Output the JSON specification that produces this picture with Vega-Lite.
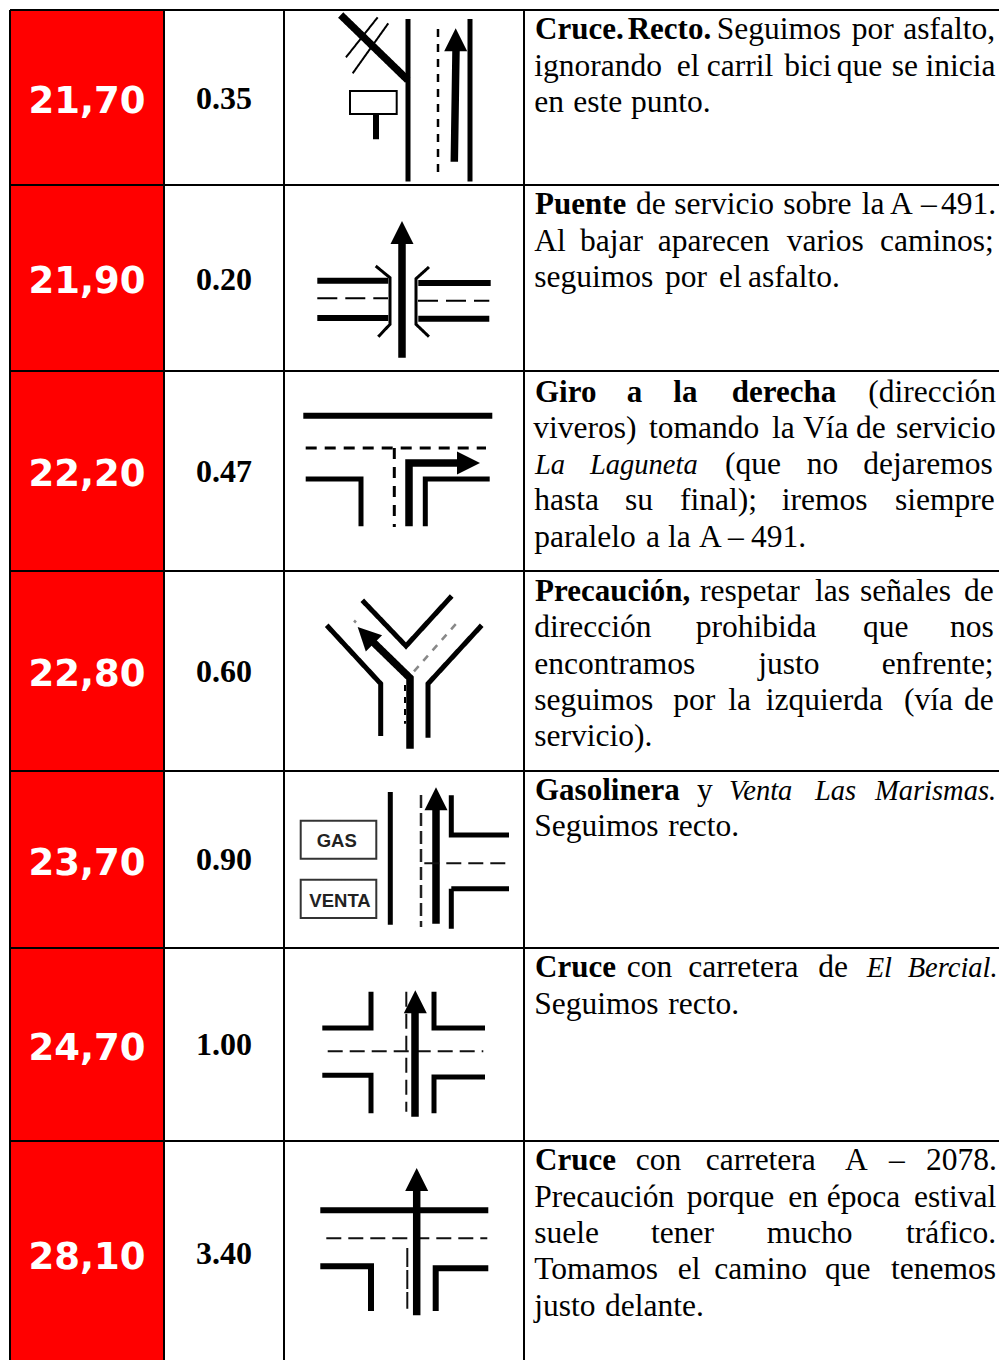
{"$schema":"https://vega.github.io/schema/vega-lite/v6.json","width":999,"height":1360,"autosize":"none","padding":0,"background":"white","config":{"view":{"stroke":null}},
"datasets":{
"filas":[
{"km":"21,70","parcial":"0.35","top":10,"bottom":185,"bk":113,"bp":109},
{"km":"21,90","parcial":"0.20","top":185,"bottom":371,"bk":293,"bp":290},
{"km":"22,20","parcial":"0.47","top":371,"bottom":571,"bk":486,"bp":482},
{"km":"22,80","parcial":"0.60","top":571,"bottom":771,"bk":686,"bp":682},
{"km":"23,70","parcial":"0.90","top":771,"bottom":948,"bk":875,"bp":870},
{"km":"24,70","parcial":"1.00","top":948,"bottom":1141,"bk":1060,"bp":1055},
{"km":"28,10","parcial":"3.40","top":1141,"bottom":1360,"bk":1269,"bp":1264}],
"columnas":[{"x":10},{"x":164},{"x":284},{"x":524}],
"trazos":[
{"p":"a1","n":0,"x":408,"y":19,"k":"road"},{"p":"a1","n":1,"x":408,"y":181.5,"k":"road"},
{"p":"a2","n":0,"x":470,"y":19,"k":"road"},{"p":"a2","n":1,"x":470,"y":181.5,"k":"road"},
{"p":"a3","n":0,"x":438,"y":29,"k":"d1"},{"p":"a3","n":1,"x":438,"y":178,"k":"d1"},
{"p":"a4","n":0,"x":454.3,"y":161.7,"k":"shaft"},{"p":"a4","n":1,"x":456,"y":50,"k":"shaft"},
{"p":"a5","n":0,"x":340.7,"y":15,"k":"shaft"},{"p":"a5","n":1,"x":407.7,"y":80,"k":"shaft"},
{"p":"a6","n":0,"x":377.7,"y":17.3,"k":"thin"},{"p":"a6","n":1,"x":346,"y":57.3,"k":"thin"},
{"p":"a7","n":0,"x":388.3,"y":23.3,"k":"thin"},{"p":"a7","n":1,"x":352.7,"y":73.3,"k":"thin"},
{"p":"a8","n":0,"x":350,"y":91,"k":"thin"},{"p":"a8","n":1,"x":396.7,"y":91,"k":"thin"},{"p":"a8","n":2,"x":396.7,"y":114,"k":"thin"},{"p":"a8","n":3,"x":350,"y":114,"k":"thin"},{"p":"a8","n":4,"x":350,"y":90,"k":"thin"},
{"p":"a9","n":0,"x":376,"y":114,"k":"road6"},{"p":"a9","n":1,"x":376,"y":139.3,"k":"road6"},
{"p":"b1","n":0,"x":402,"y":357.7,"k":"shaft"},{"p":"b1","n":1,"x":402,"y":242,"k":"shaft"},
{"p":"b2","n":0,"x":317.3,"y":280.7,"k":"road6"},{"p":"b2","n":1,"x":388.3,"y":280.7,"k":"road6"},
{"p":"b3","n":0,"x":317.3,"y":298.3,"k":"d2"},{"p":"b3","n":1,"x":388,"y":298.3,"k":"d2"},
{"p":"b4","n":0,"x":317.3,"y":318,"k":"road6"},{"p":"b4","n":1,"x":388.3,"y":318,"k":"road6"},
{"p":"b5","n":0,"x":375.7,"y":266,"k":"branch"},{"p":"b5","n":1,"x":390,"y":277.7,"k":"branch"},{"p":"b5","n":2,"x":390,"y":324.3,"k":"branch"},{"p":"b5","n":3,"x":378.3,"y":336.7,"k":"branch"},
{"p":"b6","n":0,"x":429,"y":267,"k":"branch"},{"p":"b6","n":1,"x":416,"y":278.7,"k":"branch"},{"p":"b6","n":2,"x":416,"y":324.3,"k":"branch"},{"p":"b6","n":3,"x":429,"y":336.7,"k":"branch"},
{"p":"b7","n":0,"x":418.3,"y":283,"k":"road6"},{"p":"b7","n":1,"x":490.7,"y":283,"k":"road6"},
{"p":"b8","n":0,"x":418,"y":300.7,"k":"d2"},{"p":"b8","n":1,"x":489.3,"y":300.7,"k":"d2"},
{"p":"b9","n":0,"x":418.3,"y":318.7,"k":"road6"},{"p":"b9","n":1,"x":489.3,"y":318.7,"k":"road6"},
{"p":"c1","n":0,"x":303.3,"y":415.7,"k":"road6"},{"p":"c1","n":1,"x":492.3,"y":415.7,"k":"road6"},
{"p":"c2","n":0,"x":305.7,"y":448,"k":"d3"},{"p":"c2","n":1,"x":486,"y":448,"k":"d3"},
{"p":"c3","n":0,"x":305.7,"y":479,"k":"road"},{"p":"c3","n":1,"x":361,"y":479,"k":"road"},{"p":"c3","n":2,"x":361,"y":526.3,"k":"road"},
{"p":"c4","n":0,"x":394.3,"y":448,"k":"d3"},{"p":"c4","n":1,"x":394.3,"y":527,"k":"d3"},
{"p":"c5","n":0,"x":409,"y":526.3,"k":"shaft"},{"p":"c5","n":1,"x":409,"y":463,"k":"shaft"},{"p":"c5","n":2,"x":458.3,"y":463,"k":"shaft"},
{"p":"c6","n":0,"x":425.3,"y":526.3,"k":"road"},{"p":"c6","n":1,"x":425.3,"y":479,"k":"road"},{"p":"c6","n":2,"x":489.7,"y":479,"k":"road"},
{"p":"d1","n":0,"x":362.3,"y":600.3,"k":"road"},{"p":"d1","n":1,"x":406,"y":646,"k":"road"},{"p":"d1","n":2,"x":451.7,"y":596,"k":"road"},
{"p":"d2","n":0,"x":326.7,"y":625.3,"k":"road"},{"p":"d2","n":1,"x":380.7,"y":683.7,"k":"road"},{"p":"d2","n":2,"x":380.7,"y":736,"k":"road"},
{"p":"d3","n":0,"x":481.7,"y":625.3,"k":"road"},{"p":"d3","n":1,"x":428,"y":683.7,"k":"road"},{"p":"d3","n":2,"x":428,"y":737.7,"k":"road"},
{"p":"d4","n":0,"x":410,"y":748.7,"k":"shaft"},{"p":"d4","n":1,"x":410,"y":678,"k":"shaft"},{"p":"d4","n":2,"x":372,"y":641,"k":"shaft"},
{"p":"d5","n":0,"x":414,"y":671.3,"k":"gris"},{"p":"d5","n":1,"x":460,"y":619.3,"k":"gris"},
{"p":"d6","n":0,"x":354,"y":620.5,"k":"gris"},{"p":"d6","n":1,"x":356,"y":622.5,"k":"gris"},
{"p":"d7","n":0,"x":405,"y":685,"k":"d7"},{"p":"d7","n":1,"x":405,"y":723.7,"k":"d7"},
{"p":"e1","n":0,"x":390.3,"y":792,"k":"road"},{"p":"e1","n":1,"x":390.3,"y":924.7,"k":"road"},
{"p":"e2","n":0,"x":300.7,"y":820.7,"k":"caja"},{"p":"e2","n":1,"x":376.3,"y":820.7,"k":"caja"},{"p":"e2","n":2,"x":376.3,"y":858.7,"k":"caja"},{"p":"e2","n":3,"x":300.7,"y":858.7,"k":"caja"},{"p":"e2","n":4,"x":300.7,"y":819.7,"k":"caja"},
{"p":"e3","n":0,"x":300.7,"y":879.7,"k":"caja"},{"p":"e3","n":1,"x":376.3,"y":879.7,"k":"caja"},{"p":"e3","n":2,"x":376.3,"y":918,"k":"caja"},{"p":"e3","n":3,"x":300.7,"y":918,"k":"caja"},{"p":"e3","n":4,"x":300.7,"y":878.7,"k":"caja"},
{"p":"e4","n":0,"x":421,"y":795,"k":"d5"},{"p":"e4","n":1,"x":421,"y":927,"k":"d5"},
{"p":"e5","n":0,"x":436,"y":923.7,"k":"shaft"},{"p":"e5","n":1,"x":436,"y":807,"k":"shaft"},
{"p":"e6","n":0,"x":451.3,"y":795.3,"k":"road"},{"p":"e6","n":1,"x":451.3,"y":835,"k":"road"},{"p":"e6","n":2,"x":509,"y":835,"k":"road"},
{"p":"e7","n":0,"x":451.3,"y":928.7,"k":"road"},{"p":"e7","n":1,"x":451.3,"y":888.7,"k":"road"},{"p":"e7","n":2,"x":509,"y":888.7,"k":"road"},
{"p":"e8","n":0,"x":424.3,"y":863.3,"k":"d6"},{"p":"e8","n":1,"x":509,"y":863.3,"k":"d6"},
{"p":"f1","n":0,"x":322.3,"y":1028,"k":"road"},{"p":"f1","n":1,"x":371,"y":1028,"k":"road"},{"p":"f1","n":2,"x":371,"y":991.7,"k":"road"},
{"p":"f2","n":0,"x":434,"y":991.7,"k":"road"},{"p":"f2","n":1,"x":434,"y":1028,"k":"road"},{"p":"f2","n":2,"x":485,"y":1028,"k":"road"},
{"p":"f3","n":0,"x":322.3,"y":1075.3,"k":"road"},{"p":"f3","n":1,"x":371,"y":1075.3,"k":"road"},{"p":"f3","n":2,"x":371,"y":1113.3,"k":"road"},
{"p":"f4","n":0,"x":434,"y":1113.3,"k":"road"},{"p":"f4","n":1,"x":434,"y":1077,"k":"road"},{"p":"f4","n":2,"x":485,"y":1077,"k":"road"},
{"p":"f5","n":0,"x":327.7,"y":1051.3,"k":"d6"},{"p":"f5","n":1,"x":483.3,"y":1051.3,"k":"d6"},
{"p":"f6","n":0,"x":406.3,"y":991.7,"k":"d6"},{"p":"f6","n":1,"x":406.3,"y":1111.7,"k":"d6"},
{"p":"f7","n":0,"x":415,"y":1116.7,"k":"shaft"},{"p":"f7","n":1,"x":415,"y":1010,"k":"shaft"},
{"p":"g1","n":0,"x":320.3,"y":1210.3,"k":"road6"},{"p":"g1","n":1,"x":488.3,"y":1210.3,"k":"road6"},
{"p":"g2","n":0,"x":326.3,"y":1238.3,"k":"d6"},{"p":"g2","n":1,"x":487.3,"y":1238.3,"k":"d6"},
{"p":"g3","n":0,"x":407.3,"y":1248,"k":"d8"},{"p":"g3","n":1,"x":407.3,"y":1308.7,"k":"d8"},
{"p":"g4","n":0,"x":416.7,"y":1315.3,"k":"shaft"},{"p":"g4","n":1,"x":416.7,"y":1189,"k":"shaft"},
{"p":"g5","n":0,"x":320.3,"y":1266.3,"k":"road6"},{"p":"g5","n":1,"x":371,"y":1266.3,"k":"road6"},{"p":"g5","n":2,"x":371,"y":1311,"k":"road6"},
{"p":"g6","n":0,"x":435.7,"y":1311,"k":"road6"},{"p":"g6","n":1,"x":435.7,"y":1268.3,"k":"road6"},{"p":"g6","n":2,"x":488.3,"y":1268.3,"k":"road6"}],
"puntas":[
{"x":455.7,"y":39.7,"a":0},{"x":402,"y":232.6,"a":0},{"x":468.5,"y":463,"a":90},{"x":365.8,"y":635.2,"a":315},{"x":436,"y":798.7,"a":0},{"x":415.3,"y":1001.7,"a":0},{"x":416.7,"y":1179.5,"a":0}],
"cajas":[{"t":"GAS","x":336.7,"y":846.5},{"t":"VENTA","x":340,"y":907}],
"texto":[
{"t":"Cruce.","x":535,"y":39,"s":"b"},{"t":"Recto.","x":627.7,"y":39,"s":"b"},{"t":"Seguimos","x":716.7,"y":39,"s":"n"},{"t":"por","x":851.7,"y":39,"s":"n"},{"t":"asfalto,","x":903.3,"y":39,"s":"n"},
{"t":"ignorando","x":534.3,"y":75.5,"s":"n"},{"t":"el","x":676.7,"y":75.5,"s":"n"},{"t":"carril","x":706.7,"y":75.5,"s":"n"},{"t":"bici","x":784.3,"y":75.5,"s":"n"},{"t":"que","x":836.7,"y":75.5,"s":"n"},{"t":"se","x":891.7,"y":75.5,"s":"n"},{"t":"inicia","x":925.5,"y":75.5,"s":"n"},
{"t":"en","x":534.3,"y":112,"s":"n"},{"t":"este","x":573.3,"y":112,"s":"n"},{"t":"punto.","x":631,"y":112,"s":"n"},
{"t":"Puente","x":535,"y":213.5,"s":"b"},{"t":"de","x":636,"y":213.5,"s":"n"},{"t":"servicio","x":674.3,"y":213.5,"s":"n"},{"t":"sobre","x":783.3,"y":213.5,"s":"n"},{"t":"la","x":861.7,"y":213.5,"s":"n"},{"t":"A","x":890,"y":213.5,"s":"n"},{"t":"–","x":921,"y":213.5,"s":"n"},{"t":"491.","x":941,"y":213.5,"s":"n"},
{"t":"Al","x":534.3,"y":250.5,"s":"n"},{"t":"bajar","x":580,"y":250.5,"s":"n"},{"t":"aparecen","x":657.7,"y":250.5,"s":"n"},{"t":"varios","x":786.7,"y":250.5,"s":"n"},{"t":"caminos;","x":880,"y":250.5,"s":"n"},
{"t":"seguimos","x":534.3,"y":287,"s":"n"},{"t":"por","x":665,"y":287,"s":"n"},{"t":"el","x":719,"y":287,"s":"n"},{"t":"asfalto.","x":748,"y":287,"s":"n"},
{"t":"Giro","x":535,"y":401.5,"s":"b"},{"t":"a","x":626.7,"y":401.5,"s":"b"},{"t":"la","x":673.3,"y":401.5,"s":"b"},{"t":"derecha","x":731.7,"y":401.5,"s":"b"},{"t":"(dirección","x":868.3,"y":401.5,"s":"n"},
{"t":"viveros)","x":533.3,"y":438,"s":"n"},{"t":"tomando","x":649,"y":438,"s":"n"},{"t":"la","x":772,"y":438,"s":"n"},{"t":"Vía","x":803,"y":438,"s":"n"},{"t":"de","x":856,"y":438,"s":"n"},{"t":"servicio","x":896,"y":438,"s":"n"},
{"t":"La","x":535,"y":474,"s":"i"},{"t":"Laguneta","x":590,"y":474,"s":"i"},{"t":"(que","x":725,"y":474,"s":"n"},{"t":"no","x":806.7,"y":474,"s":"n"},{"t":"dejaremos","x":863.3,"y":474,"s":"n"},
{"t":"hasta","x":534.3,"y":510,"s":"n"},{"t":"su","x":625,"y":510,"s":"n"},{"t":"final);","x":680,"y":510,"s":"n"},{"t":"iremos","x":781.7,"y":510,"s":"n"},{"t":"siempre","x":895,"y":510,"s":"n"},
{"t":"paralelo","x":534.3,"y":546.5,"s":"n"},{"t":"a","x":646,"y":546.5,"s":"n"},{"t":"la","x":668,"y":546.5,"s":"n"},{"t":"A","x":699,"y":546.5,"s":"n"},{"t":"–","x":728,"y":546.5,"s":"n"},{"t":"491.","x":751,"y":546.5,"s":"n"},
{"t":"Precaución,","x":535,"y":600.5,"s":"b"},{"t":"respetar","x":700,"y":600.5,"s":"n"},{"t":"las","x":815,"y":600.5,"s":"n"},{"t":"señales","x":860,"y":600.5,"s":"n"},{"t":"de","x":964,"y":600.5,"s":"n"},
{"t":"dirección","x":534.3,"y":637,"s":"n"},{"t":"prohibida","x":695.7,"y":637,"s":"n"},{"t":"que","x":863,"y":637,"s":"n"},{"t":"nos","x":950,"y":637,"s":"n"},
{"t":"encontramos","x":534.3,"y":673.7,"s":"n"},{"t":"justo","x":758.3,"y":673.7,"s":"n"},{"t":"enfrente;","x":881.7,"y":673.7,"s":"n"},
{"t":"seguimos","x":534.3,"y":709.5,"s":"n"},{"t":"por","x":673.3,"y":709.5,"s":"n"},{"t":"la","x":728.3,"y":709.5,"s":"n"},{"t":"izquierda","x":765.7,"y":709.5,"s":"n"},{"t":"(vía","x":904,"y":709.5,"s":"n"},{"t":"de","x":964,"y":709.5,"s":"n"},
{"t":"servicio).","x":534.3,"y":746,"s":"n"},
{"t":"Gasolinera","x":535,"y":799.5,"s":"b"},{"t":"y","x":697,"y":799.5,"s":"n"},{"t":"Venta","x":729,"y":799.5,"s":"i"},{"t":"Las","x":815,"y":799.5,"s":"i"},{"t":"Marismas.","x":875,"y":799.5,"s":"i"},
{"t":"Seguimos","x":534.3,"y":836,"s":"n"},{"t":"recto.","x":668.3,"y":836,"s":"n"},
{"t":"Cruce","x":535,"y":977,"s":"b"},{"t":"con","x":626.7,"y":977,"s":"n"},{"t":"carretera","x":688.3,"y":977,"s":"n"},{"t":"de","x":818.3,"y":977,"s":"n"},{"t":"El","x":866.7,"y":977,"s":"i"},{"t":"Bercial.","x":907.7,"y":977,"s":"i"},
{"t":"Seguimos","x":534.3,"y":1013.5,"s":"n"},{"t":"recto.","x":668.3,"y":1013.5,"s":"n"},
{"t":"Cruce","x":535,"y":1170,"s":"b"},{"t":"con","x":635.7,"y":1170,"s":"n"},{"t":"carretera","x":705.7,"y":1170,"s":"n"},{"t":"A","x":845,"y":1170,"s":"n"},{"t":"–","x":889,"y":1170,"s":"n"},{"t":"2078.","x":926,"y":1170,"s":"n"},
{"t":"Precaución","x":534.3,"y":1206.5,"s":"n"},{"t":"porque","x":686.7,"y":1206.5,"s":"n"},{"t":"en","x":788.3,"y":1206.5,"s":"n"},{"t":"época","x":826.7,"y":1206.5,"s":"n"},{"t":"estival","x":914,"y":1206.5,"s":"n"},
{"t":"suele","x":534.3,"y":1243,"s":"n"},{"t":"tener","x":651,"y":1243,"s":"n"},{"t":"mucho","x":766.7,"y":1243,"s":"n"},{"t":"tráfico.","x":906,"y":1243,"s":"n"},
{"t":"Tomamos","x":534.3,"y":1279,"s":"n"},{"t":"el","x":677.7,"y":1279,"s":"n"},{"t":"camino","x":714.3,"y":1279,"s":"n"},{"t":"que","x":825,"y":1279,"s":"n"},{"t":"tenemos","x":891,"y":1279,"s":"n"},
{"t":"justo","x":534.3,"y":1315.5,"s":"n"},{"t":"delante.","x":605,"y":1315.5,"s":"n"}]
},
"encoding":{
"x":{"type":"quantitative","axis":null,"scale":{"domain":[0,999],"nice":false,"zero":false}},
"y":{"type":"quantitative","axis":null,"scale":{"domain":[0,1360],"nice":false,"zero":false,"reverse":true}}
},
"layer":[
{"data":{"name":"filas"},"mark":{"type":"rect","color":"#ff0000"},"encoding":{"x":{"datum":10},"x2":{"datum":164},"y":{"field":"top","type":"quantitative"},"y2":{"field":"bottom"}}},
{"data":{"name":"filas"},"mark":{"type":"rule","color":"black","strokeWidth":2},"encoding":{"x":{"datum":10},"x2":{"datum":999},"y":{"field":"top","type":"quantitative"}}},
{"data":{"name":"columnas"},"mark":{"type":"rule","color":"black","strokeWidth":2},"encoding":{"x":{"field":"x","type":"quantitative"},"y":{"datum":10},"y2":{"datum":1360}}},
{"data":{"name":"filas"},"mark":{"type":"text","font":"DejaVu Sans","fontWeight":"bold","fontSize":37,"color":"white","align":"center","baseline":"alphabetic"},"encoding":{"x":{"datum":87},"y":{"field":"bk","type":"quantitative"},"text":{"field":"km"}}},
{"data":{"name":"filas"},"mark":{"type":"text","font":"Liberation Serif","fontWeight":"bold","fontSize":32,"color":"black","align":"center","baseline":"alphabetic"},"encoding":{"x":{"datum":224},"y":{"field":"bp","type":"quantitative"},"text":{"field":"parcial"}}},
{"data":{"name":"trazos"},"mark":{"type":"line","interpolate":"linear"},"encoding":{
"x":{"field":"x","type":"quantitative"},"y":{"field":"y","type":"quantitative"},
"detail":{"field":"p"},"order":{"field":"n"},
"size":{"field":"k","type":"nominal","legend":null,"scale":{"type":"ordinal","domain":["road","road6","shaft","thin","branch","caja","d1","d2","d3","d5","d6","d7","d8","gris"],"range":[5,6,7.5,2,3,2,2.5,2,3,2.5,2,2,2,2.5]}},
"strokeDash":{"field":"k","type":"nominal","legend":null,"scale":{"domain":["road","road6","shaft","thin","branch","caja","d1","d2","d3","d5","d6","d7","d8","gris"],"range":[[1,0],[1,0],[1,0],[1,0],[1,0],[1,0],[8,7],[20,8],[11,8],[13,5],[15,7],[6,6],[19,3],[7,7]]}},
"color":{"field":"k","type":"nominal","legend":null,"scale":{"domain":["road","road6","shaft","thin","branch","caja","d1","d2","d3","d5","d6","d7","d8","gris"],"range":["#000","#000","#000","#000","#000","#333","#000","#000","#000","#222","#111","#000","#111","#888"]}}}},
{"data":{"name":"puntas"},"mark":{"type":"point","filled":true,"opacity":1,"color":"black","size":529,"shape":"M0,-1L1,1L-1,1Z"},"encoding":{"x":{"field":"x","type":"quantitative"},"y":{"field":"y","type":"quantitative"},"angle":{"field":"a","type":"quantitative","scale":null}}},
{"data":{"name":"cajas"},"mark":{"type":"text","font":"Liberation Sans","fontWeight":"bold","fontSize":18.5,"color":"#222","align":"center","baseline":"alphabetic"},"encoding":{"x":{"field":"x","type":"quantitative"},"y":{"field":"y","type":"quantitative"},"text":{"field":"t"}}},
{"data":{"name":"texto"},"transform":[{"filter":"datum.s==='n'"}],"mark":{"type":"text","font":"Liberation Serif","fontSize":31.5,"color":"black","align":"left","baseline":"alphabetic"},"encoding":{"x":{"field":"x","type":"quantitative"},"y":{"field":"y","type":"quantitative"},"text":{"field":"t"}}},
{"data":{"name":"texto"},"transform":[{"filter":"datum.s==='b'"}],"mark":{"type":"text","font":"Liberation Serif","fontWeight":"bold","fontSize":31,"color":"black","align":"left","baseline":"alphabetic"},"encoding":{"x":{"field":"x","type":"quantitative"},"y":{"field":"y","type":"quantitative"},"text":{"field":"t"}}},
{"data":{"name":"texto"},"transform":[{"filter":"datum.s==='i'"}],"mark":{"type":"text","font":"Liberation Serif","fontStyle":"italic","fontSize":28.5,"color":"black","align":"left","baseline":"alphabetic"},"encoding":{"x":{"field":"x","type":"quantitative"},"y":{"field":"y","type":"quantitative"},"text":{"field":"t"}}}
]}
